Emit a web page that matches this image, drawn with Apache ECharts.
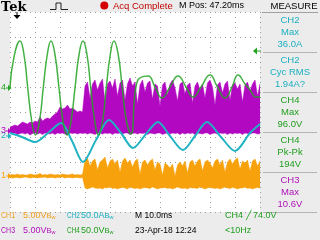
<!DOCTYPE html>
<html><head><meta charset="utf-8">
<script src="https://cdn.jsdelivr.net/npm/echarts/dist/echarts.min.js"></script>
<style>html,body{margin:0;padding:0;background:#ececec}#c{width:320px;height:240px}</style>
</head><body><div id="c"></div>
<script>
// ---- Data (time in ms, 10 ms/div; vertical values in screen divisions 0..8) ----
// CH4 (green, voltage) trace points
const ch4T = [0,1.6,4.0,5.6,7.1,8.7,10.2,11.8,13.3,14.9,16.4,18.0,19.6,21.2,22.8,24.4,26.0,27.6,29.2,30.8,32.3,33.9,35.4,37.0,38.5,40.1,41.6,43.3,44.9,46.6,48.4,50.8,55.2,58.0,60.8,64.0,67.2,70.4,73.2,76.4,80.0,82.8,86.0,88.8,91.2,94.0,96.0,98.4,100];
const ch4V = [5.0,6.2,6.84,6.29,4.96,3.63,3.08,3.63,4.96,6.29,6.84,6.29,4.96,3.63,3.08,3.63,4.96,6.29,6.84,6.29,4.96,3.63,3.08,3.63,4.96,6.29,6.84,6.29,4.96,3.63,3.12,5.2,5.44,5.0,4.56,5.0,5.44,5.0,4.6,5.0,5.48,5.04,4.56,5.0,5.48,5.12,4.88,4.6,4.6];
// CH2 (cyan, current) trace points
const ch2T = [0,4.8,10.0,15.2,20.4,24.8,29.2,34.4,39.6,44.4,49.2,54.4,59.2,64.0,69.2,74.0,78.8,84.4,90.0,96.0,100];
const ch2V = [3.16,3.0,2.8,3.16,3.56,2.84,2.0,2.88,3.68,3.16,2.56,3.12,3.6,3.04,2.48,3.04,3.6,3.0,2.44,3.16,3.52];
// CH3 (magenta) envelope, sampled every 1 ms
const ch3Top = [3.40,3.44,3.48,3.44,3.52,3.60,3.56,3.52,3.60,3.56,3.64,3.60,3.80,3.64,3.72,3.76,3.72,3.84,3.92,4.00,4.20,4.12,4.16,4.28,4.12,4.16,4.08,4.00,4.04,4.00,
5.04,5.20,4.56,5.12,5.28,4.88,5.16,5.32,4.40,5.12,5.24,4.96,5.32,4.64,5.16,5.28,4.48,5.12,5.36,5.04,5.20,4.32,5.08,5.28,4.80,5.16,5.24,4.52,5.12,5.04,4.24,5.08,5.20,4.68,5.12,5.28,4.96,4.44,5.12,5.20,4.72,5.08,5.16,4.36,5.04,5.20,4.88,5.12,4.56,5.16,5.28,5.00,4.28,5.08,5.20,4.76,5.12,5.24,4.48,5.08,5.16,4.92,5.12,4.40,5.08,5.20,4.84,5.12,5.28,4.64,5.12];
const ch3Bot = [3.16,3.12,3.16,3.10,3.14,3.16,3.12,3.16,3.08,3.14,3.16,3.12,3.16,3.10,3.16,3.14,3.12,3.16,3.10,3.16,3.14,3.16,3.12,3.08,3.16,3.14,3.16,3.12,3.16,3.14,
3.16,3.12,3.16,3.14,3.10,3.16,3.16,3.12,3.16,3.14,3.16,3.10,3.16,3.14,3.16,3.12,3.16,3.16,3.10,3.14,3.16,3.12,3.16,3.14,3.16,3.10,3.16,3.14,3.12,3.16,3.16,3.10,3.14,3.16,3.12,3.16,3.14,3.16,3.10,3.16,3.12,3.16,3.14,3.16,3.10,3.16,3.14,3.12,3.16,3.16,3.10,3.14,3.16,3.12,3.16,3.14,3.16,3.10,3.16,3.12,3.16,3.14,3.16,3.10,3.16,3.14,3.12,3.16,3.16,3.12,3.14];
// CH1 (orange) envelope, sampled every 1 ms
const ch1Top = [1.48,1.50,1.48,1.52,1.48,1.50,1.48,1.48,1.52,1.50,1.48,1.50,1.54,1.48,1.50,1.48,1.52,1.50,1.48,1.50,1.48,1.52,1.50,1.48,1.50,1.52,1.48,1.50,1.48,1.50,
2.08,2.16,1.84,2.04,2.12,1.68,2.00,2.08,2.20,1.76,2.04,2.12,1.92,2.08,1.60,2.04,2.16,1.96,2.08,1.80,2.04,2.12,1.52,2.00,2.08,1.88,2.04,2.12,1.68,2.00,1.92,1.48,1.96,1.88,1.76,1.92,1.44,1.88,2.00,1.84,2.04,1.56,2.00,2.08,1.84,2.04,2.12,1.64,2.00,2.08,1.96,1.76,2.04,2.12,1.88,2.08,1.60,2.00,2.12,1.92,2.08,2.16,1.72,2.04,1.96,2.08,1.64,2.04,2.12,1.84,2.04];
const ch1Bot = [1.38,1.36,1.38,1.38,1.36,1.38,1.40,1.38,1.36,1.38,1.38,1.36,1.38,1.38,1.40,1.36,1.38,1.38,1.36,1.38,1.38,1.40,1.36,1.38,1.38,1.36,1.38,1.38,1.36,1.38,
0.96,0.92,0.96,1.00,0.96,0.94,0.96,0.92,0.98,0.96,1.00,0.94,0.96,0.92,0.96,0.98,0.96,0.92,1.00,0.96,0.94,0.96,0.92,0.96,0.98,0.96,0.94,1.00,0.96,0.92,0.96,0.96,0.98,0.94,0.96,0.92,0.96,1.00,0.96,0.94,0.96,0.92,0.98,0.96,0.96,0.94,1.00,0.96,0.92,0.96,0.98,0.96,0.94,0.96,0.92,0.96,1.00,0.96,0.94,0.98,0.96,0.92,0.96,0.96,1.00,0.94,0.96,0.92,0.96,0.98,0.96];
// Ground reference levels (div) and trigger
const grounds = [{ch:'1', v:1.44}, {ch:'2', v:3.04}, {ch:'3', v:3.24}, {ch:'4', v:4.96}];
const triggerTime = 2.8;     // ms
const triggerLevel = 6.44;   // div (CH4 74.0V)
// Texts
const measures = [
  {ch:'CH2', lines:['CH2','Max','36.0A']},
  {ch:'CH2', lines:['CH2','Cyc RMS','1.94A?']},
  {ch:'CH4', lines:['CH4','Max','96.0V']},
  {ch:'CH4', lines:['CH4','Pk-Pk','194V']},
  {ch:'CH3', lines:['CH3','Max','10.6V']}
];

const COL = {CH1:'#f7a20c', CH2:'#1fb3c3', CH3:'#b208c2', CH4:'#22a322'};
const TXT = {CH1:'#f0a020', CH2:'#1ab0c0', CH3:'#b010b8', CH4:'#1f9f1f'};
const FONT = '"Liberation Sans", Arial, sans-serif';

const tBand = ch3Top.map((_, i) => i); // 1 ms sampling grid
const pairs = (t, v) => t.map((x, i) => [x, v[i]]);

function bandSeries(top, bot, color, z) {
  return {
    type:'custom', z:z, silent:true, clip:true, data:[[0, 0]],
    renderItem:function (params, api) {
      const pts = [];
      for (let i = 0; i < tBand.length; i++) pts.push(api.coord([tBand[i], top[i]]));
      for (let i = tBand.length - 1; i >= 0; i--) pts.push(api.coord([tBand[i], bot[i]]));
      return {type:'polygon', shape:{points:pts}, style:{fill:color, stroke:color, lineWidth:0.5}};
    }
  };
}

const chart = echarts.init(document.getElementById('c'), null, {renderer:'canvas'});

const axisCommon = {
  axisLine:{show:false}, axisTick:{show:false}, axisLabel:{show:false},
  splitLine:{show:true, lineStyle:{color:'#9a9a9a', width:1, type:[1,4]}}
};

const option = {
  animation:false,
  backgroundColor:'#ececec',
  grid:{show:true, backgroundColor:'#ffffff', borderWidth:0, left:10, top:12, width:250, height:200},
  xAxis:Object.assign({type:'value', min:0, max:100, interval:10}, axisCommon),
  yAxis:Object.assign({type:'value', min:0, max:8, interval:1}, axisCommon),
  series:[
    bandSeries(ch1Top, ch1Bot, COL.CH1, 2),
    bandSeries(ch3Top, ch3Bot, COL.CH3, 3),
    {type:'line', data:pairs(ch2T, ch2V), symbol:'none', smooth:0.3, lineStyle:{width:2, color:COL.CH2}, silent:true, z:4},
    {type:'line', data:pairs(ch4T, ch4V), symbol:'none', smooth:0.5, lineStyle:{width:1.5, color:COL.CH4, opacity:0.85}, silent:true, z:5}
  ]
};
chart.setOption(option);

// ---- Decorations (text, markers) ----
const g = [];
function txt(x, y, text, fill, size, align, sx) {
  g.push({type:'text', x:x, y:y, scaleX:sx||1, silent:true, z:100,
    style:{text:text, fill:fill, font:(size||9)+'px '+FONT, textAlign:align||'left', textVerticalAlign:'middle'}});
}
// top bar
g.push({type:'text', x:1, y:7.5, z:100, style:{text:'Tek', fill:'#000', font:'bold 13px "DejaVu Serif", serif', textVerticalAlign:'middle'}});
g.push({type:'polyline', z:100, shape:{points:[[50,9.5],[56,9.5],[56,3],[61,3],[61,9.5],[68,9.5]]}, style:{stroke:'#222', lineWidth:1, fill:null}});
g.push({type:'circle', z:100, shape:{cx:104.3, cy:5.5, r:4}, style:{fill:'#d40000'}});
txt(113, 6, 'Acq Complete', '#c00000', 9.5);
txt(179, 6, 'M Pos: 47.20ms', '#000', 9);
txt(294, 6, 'MEASURE', '#000', 9.5, 'center');
g.push({type:'line', z:100, shape:{x1:262, y1:12.5, x2:318, y2:12.5}, style:{stroke:'#a0a0a0', lineWidth:1}});
// measurement panel
measures.forEach((m, k) => {
  const y0 = 20 + k * 40;
  m.lines.forEach((s, j) => txt(290, y0 + j * 12, s, TXT[m.ch], 9.5, 'center'));
  g.push({type:'line', z:100, shape:{x1:263, y1:y0 + 32.5, x2:317, y2:y0 + 32.5}, style:{stroke:'#b4b4b4', lineWidth:1}});
});
// bottom rows
function bw(x, y, val, fill) {
  g.push({type:'text', x:x, y:y, z:100, silent:true, style:{text:val + '{b|B}{w|w}', fill:fill, font:'9px '+FONT, textVerticalAlign:'middle',
    rich:{b:{fontSize:7.5, fontFamily:FONT, fill:fill}, w:{fontSize:5.5, fontFamily:FONT, fill:fill, verticalAlign:'bottom'}}}});
}
txt(1, 216, 'CH1', TXT.CH1, 9, 'left', 0.78); bw(23, 216, '5.00V', TXT.CH1);
txt(67, 216, 'CH2', TXT.CH2, 9, 'left', 0.72); bw(81, 216, '50.0A', TXT.CH2);
txt(135, 216, 'M 10.0ms', '#000', 8.5);
txt(225, 216, 'CH4 ╱ 74.0V', TXT.CH4, 9);
txt(1, 231, 'CH3', TXT.CH3, 9, 'left', 0.78); bw(23, 231, '5.00V', TXT.CH3);
txt(67, 231, 'CH4', TXT.CH4, 9, 'left', 0.72); bw(81, 231, '50.0V', TXT.CH4);
txt(135, 231, '23-Apr-18 12:24', '#000', 8.5);
txt(225, 231, '<10Hz', TXT.CH4, 9);
// ground markers
grounds.forEach(gr => {
  const p = chart.convertToPixel({gridIndex:0}, [0, gr.v]);
  const c = COL['CH' + gr.ch];
  txt(1, p[1], gr.ch, c, 9);
  g.push({type:'line', z:100, shape:{x1:6, y1:p[1], x2:9, y2:p[1]}, style:{stroke:c, lineWidth:1}});
  g.push({type:'polygon', z:100, shape:{points:[[8, p[1]-3],[8, p[1]+3],[11.5, p[1]]]}, style:{fill:c}});
});
// trigger position (top) and level (right)
const tp = chart.convertToPixel({gridIndex:0}, [triggerTime, 8]);
g.push({type:'line', z:100, shape:{x1:tp[0], y1:tp[1], x2:tp[0], y2:tp[1]+3}, style:{stroke:'#000', lineWidth:1}});
g.push({type:'polygon', z:100, shape:{points:[[tp[0]-3.5, tp[1]+3],[tp[0]+3.5, tp[1]+3],[tp[0], tp[1]+7]]}, style:{fill:'#000'}});
const tl = chart.convertToPixel({gridIndex:0}, [100, triggerLevel]);
g.push({type:'polygon', z:100, shape:{points:[[tl[0]-7, tl[1]],[tl[0]-3, tl[1]-3.5],[tl[0]-3, tl[1]+3.5]]}, style:{fill:COL.CH4}});
g.push({type:'line', z:100, shape:{x1:tl[0]-3, y1:tl[1], x2:tl[0]+1, y2:tl[1]}, style:{stroke:COL.CH4, lineWidth:1}});

chart.setOption({graphic:g});
</script></body></html>
